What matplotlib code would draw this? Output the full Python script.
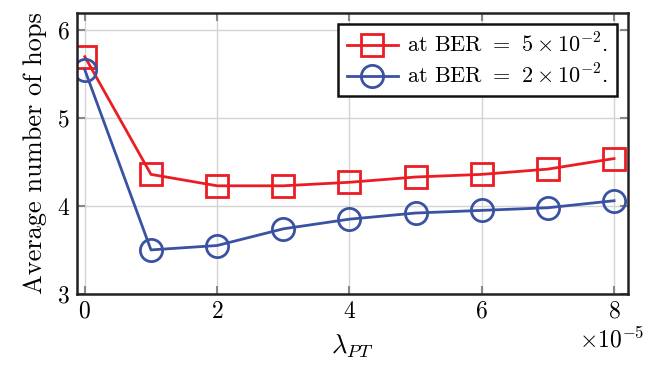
import numpy as np
import matplotlib.pyplot as plt
from matplotlib.ticker import ScalarFormatter

plt.rcParams['font.family'] = 'serif'
plt.rcParams['font.serif'] = ['cmr10']
plt.rcParams['mathtext.fontset'] = 'cm'
plt.rcParams['axes.formatter.use_mathtext'] = True

# lambda_PT values and average hop counts
lam = [0, 1e-5, 2e-5, 3e-5, 4e-5, 5e-5, 6e-5, 7e-5, 8e-5]
hops_ber5 = [5.70, 4.36, 4.23, 4.23, 4.27, 4.33, 4.36, 4.42, 4.54]
hops_ber2 = [5.55, 3.50, 3.55, 3.74, 3.85, 3.92, 3.95, 3.98, 4.06]
label_ber5 = r'at BER $=$ $5 \times 10^{-2}$.'
label_ber2 = r'at BER $=$ $2 \times 10^{-2}$.'

red = '#ec1c24'
blue = '#3a52a2'

fig = plt.figure(figsize=(6.46, 3.65), dpi=100)
ax = fig.add_axes([0.119, 0.195, 0.853, 0.77])

ax.plot(lam, hops_ber5, color=red, lw=2, marker='s', ms=16,
        mfc='none', mec=red, mew=2, label=label_ber5)
ax.plot(lam, hops_ber2, color=blue, lw=2, marker='o', ms=16,
        mfc='none', mec=blue, mew=2, label=label_ber2)

ax.set_xlim(-0.12e-5, 8.21e-5)
ax.set_ylim(3, 6.2)
ax.set_xticks([0, 2e-5, 4e-5, 6e-5, 8e-5])
ax.set_yticks([3, 4, 5, 6])

fmt = ScalarFormatter(useMathText=True)
fmt.set_powerlimits((-3, 3))
ax.xaxis.set_major_formatter(fmt)
ax.xaxis.get_offset_text().set_fontsize(17)
ax.xaxis.get_offset_text().set_x(1.03)

ax.grid(color='#d3d3d3', lw=1)
ax.set_axisbelow(True)
ax.tick_params(direction='in', length=6, width=1.5, color='#888888',
               top=True, right=True, labelsize=17, pad=5)
for s in ax.spines.values():
    s.set_linewidth(1.8)
    s.set_color('#222222')

ax.set_xlabel(r'$\lambda_{PT}$', fontsize=19, labelpad=7)
ax.set_ylabel('Average number of hops', fontsize=19, labelpad=7)

leg = ax.legend(loc='upper right', fontsize=16, fancybox=False,
                framealpha=1, edgecolor='#111111', borderaxespad=0.5,
                handlelength=2.3, labelspacing=0.3, borderpad=0.4,
                handletextpad=0.4)
leg.get_frame().set_linewidth(1.8)

plt.savefig('out.png', dpi=100)
